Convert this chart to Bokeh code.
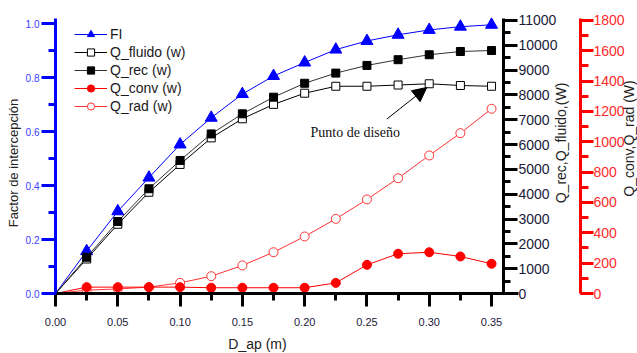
import math
from bokeh.plotting import figure
from bokeh.models import (Range1d, LinearAxis, SingleIntervalTicker,
                          PrintfTickFormatter, Label, Arrow, NormalHead, Legend, LegendItem)
from bokeh.embed import file_html
from bokeh.resources import INLINE

# ---- data ----
D_ap = [0.0, 0.025, 0.05, 0.075, 0.1, 0.125, 0.15, 0.175, 0.2, 0.225, 0.25, 0.275, 0.3, 0.325, 0.35]
FI = [0.0, 0.157, 0.305, 0.43, 0.553, 0.652, 0.74, 0.807, 0.857, 0.905, 0.937, 0.96, 0.978, 0.99, 0.997]
Q_fluido = [0, 1390, 2790, 4080, 5200, 6270, 7040, 7620, 8070, 8350, 8350, 8400, 8450, 8380, 8350]
Q_rec = [0, 1460, 2900, 4220, 5360, 6430, 7240, 7910, 8470, 8880, 9190, 9420, 9620, 9750, 9790]
Q_conv = [0, 42, 42, 42, 42, 38, 38, 38, 38, 70, 189, 262, 272, 244, 196]
Q_rad = [0, 22, 30, 42, 70, 114, 185, 272, 376, 492, 620, 760, 910, 1057, 1218]

legend_labels = ["FI", "Q_fluido (w)", "Q_rec (w)", "Q_conv (w)", "Q_rad (w)"]
x_title = "D_ap (m)"
left_title = "Factor de intercepción"
right_title = "Q_rec,Q_fluido,(W)"
red_title = "Q_conv,Q_rad (W)"
note_text = "Punto de diseño"
design_idx = 12  # design point on Q_fluido

# axis extents (value ranges shown by each axis)
X_AXIS_END = 0.372
FI_AXIS_END = 1.02
Q_AXIS_END = 11080
R_AXIS_END = 1813

# ---- layout geometry (pixels) ----
W, H = 637, 353
LEFT_PX, RIGHT_PX = 55, 503          # x=0 and x=X_MAX positions
X_MAX = 0.3596
BOTTOM_PX, TOP_PX = 293, 18          # value 0 and axis top positions
Q_AXIS_PX = 503                      # black axis position
R_AXIS_PX = 580                      # red axis position

FONT = "Liberation Sans"
BLUE = "#0000ff"
RED = "#ff0000"

# ranges so that the frame fills the whole canvas
xs = (RIGHT_PX - LEFT_PX) / X_MAX
x_range = Range1d(-LEFT_PX / xs, (W - LEFT_PX) / xs)


def yrange(top_value):
    s = (BOTTOM_PX - TOP_PX) / top_value
    return Range1d(-(H - BOTTOM_PX) / s, BOTTOM_PX / s)


p = figure(width=W, height=H, output_backend="svg", toolbar_location=None,
           x_range=x_range, y_range=yrange(1.0204),
           min_border=0, min_border_left=0, min_border_right=0,
           min_border_top=0, min_border_bottom=0,
           x_axis_location=None, y_axis_location=None)
p.extra_y_ranges = {"q": yrange(Q_AXIS_END), "r": yrange(R_AXIS_END)}
p.outline_line_color = None
p.xgrid.visible = False
p.ygrid.visible = False
p.background_fill_color = "white"
p.border_fill_color = "white"


def style_axis(ax, color, label_color, font_size, tick_out, minor_out, standoff):
    ax.axis_line_color = color
    ax.axis_line_width = 3
    ax.major_tick_line_color = color
    ax.major_tick_line_width = 3
    ax.minor_tick_line_color = color
    ax.minor_tick_line_width = 3
    ax.major_tick_out = tick_out
    ax.major_tick_in = 0
    ax.minor_tick_out = minor_out
    ax.minor_tick_in = 0
    ax.major_label_text_color = label_color
    ax.major_label_text_font = FONT
    ax.major_label_text_font_size = font_size
    ax.major_label_standoff = standoff


def px_to_x(px):
    return x_range.start + px / xs


# bottom axis
xax = LinearAxis(ticker=SingleIntervalTicker(interval=0.05, num_minor_ticks=2),
                 formatter=PrintfTickFormatter(format="%.2f"),
                 bounds=(0, X_AXIS_END), fixed_location=0)
style_axis(xax, "black", "#1a1a3a", "11px", 13, 7, 11)
p.add_layout(xax, "below")

# left axis (FI)
lax = LinearAxis(ticker=SingleIntervalTicker(interval=0.2, num_minor_ticks=2),
                 formatter=PrintfTickFormatter(format="%.1f"),
                 bounds=(0, FI_AXIS_END), fixed_location=0)
style_axis(lax, BLUE, "#3c3cff", "10px", 14, 7, 2)
p.add_layout(lax, "left")

# right black axis
qax = LinearAxis(y_range_name="q", ticker=SingleIntervalTicker(interval=1000, num_minor_ticks=2),
                 formatter=PrintfTickFormatter(format="%d"),
                 bounds=(0, Q_AXIS_END), fixed_location=px_to_x(Q_AXIS_PX))
style_axis(qax, "black", "#1a1a3a", "14px", 14, 7, 1)
p.add_layout(qax, "right")

# right red axis
rax = LinearAxis(y_range_name="r", ticker=SingleIntervalTicker(interval=200, num_minor_ticks=2),
                 formatter=PrintfTickFormatter(format="%d"),
                 bounds=(0, R_AXIS_END), fixed_location=px_to_x(R_AXIS_PX))
style_axis(rax, RED, "#ff2a2a", "14px", 13, 8, 0)
p.add_layout(rax, "right")

# ---- series ----
fi_l = p.line(D_ap, FI, line_color=BLUE, line_width=1)
fi_m = p.scatter(D_ap[1:], FI[1:], marker="triangle", size=12, fill_color=BLUE, line_color=BLUE)

fl_l = p.line(D_ap, Q_fluido, y_range_name="q", line_color="black", line_width=1)
fl_m = p.scatter(D_ap[1:], Q_fluido[1:], y_range_name="q", marker="square", size=8,
                 fill_color="white", line_color="black", line_width=1)

rc_l = p.line(D_ap, Q_rec, y_range_name="q", line_color="#333333", line_width=1)
rc_m = p.scatter(D_ap[1:], Q_rec[1:], y_range_name="q", marker="square", size=8,
                 fill_color="black", line_color="black")

rd_l = p.line(D_ap, Q_rad, y_range_name="r", line_color="#ff3333", line_width=1)
rd_m = p.scatter(D_ap[1:], Q_rad[1:], y_range_name="r", marker="circle", size=9,
                 fill_color="white", line_color="#ff3333", line_width=1)

cv_l = p.line(D_ap, Q_conv, y_range_name="r", line_color=RED, line_width=1)
cv_m = p.scatter(D_ap[1:], Q_conv[1:], y_range_name="r", marker="circle", size=9,
                 fill_color=RED, line_color=RED)

legend = Legend(items=[
    LegendItem(label=legend_labels[0], renderers=[fi_l, fi_m]),
    LegendItem(label=legend_labels[1], renderers=[fl_l, fl_m]),
    LegendItem(label=legend_labels[2], renderers=[rc_l, rc_m]),
    LegendItem(label=legend_labels[3], renderers=[cv_l, cv_m]),
    LegendItem(label=legend_labels[4], renderers=[rd_l, rd_m]),
], location=(74, H - 25 - 90), glyph_width=33, glyph_height=18, label_height=18, label_standoff=3,
    spacing=0, padding=0, margin=0, border_line_color=None, background_fill_alpha=0,
    label_text_font=FONT, label_text_font_size="14px", label_text_color="#1a1a1a")
p.add_layout(legend)

# ---- annotation: design point ----
ax_x = D_ap[design_idx]
ax_y = Q_fluido[design_idx]
p.add_layout(Arrow(end=NormalHead(size=14, fill_color="black", line_color="black"),
                   x_start=ax_x - 0.034, y_start=ax_y - 1420,
                   x_end=ax_x - 0.002, y_end=ax_y - 150,
                   y_range_name="q", line_color="black", line_width=1))
p.add_layout(Label(x=0.2047, y=6490, y_range_name="q", text=note_text,
                   text_font="Liberation Serif", text_font_size="14px", text_color="#111111",
                   text_baseline="middle", text_align="left"))


# ---- axis titles (screen positions, measured from the bottom-left corner) ----
def title_label(text, cx, cy, angle, size):
    return Label(x=cx, y=H - cy, x_units="screen", y_units="screen", text=text,
                 angle=angle, angle_units="deg", text_align="center", text_baseline="middle",
                 text_font=FONT, text_font_size=size, text_color="#222222")


p.add_layout(title_label(left_title, 13, 162.5, 90, "13px"))
p.add_layout(title_label(right_title, 560.5, 142.5, 90, "14px"))
p.add_layout(title_label(red_title, 628, 138, 90, "14px"))
p.add_layout(title_label(x_title, 257, 343, 0, "14px"))

open("out.html", "w").write(file_html(p, INLINE))
